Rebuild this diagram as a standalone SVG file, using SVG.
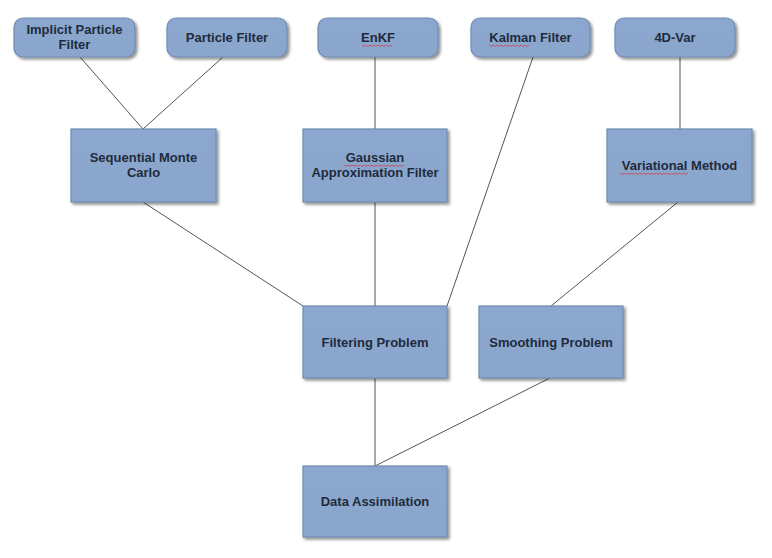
<svg xmlns="http://www.w3.org/2000/svg" width="772" height="558" viewBox="0 0 772 558">
<defs>
<linearGradient id="g" x1="0" y1="0" x2="0" y2="1">
<stop offset="0" stop-color="#8ba7cf"/>
<stop offset="1" stop-color="#8aa6cc"/>
</linearGradient>
<filter id="sh" x="-10%" y="-10%" width="125%" height="130%">
<feGaussianBlur in="SourceAlpha" stdDeviation="1.5"/>
<feOffset dx="1.5" dy="2" result="b"/>
<feComponentTransfer><feFuncA type="linear" slope="0.45"/></feComponentTransfer>
<feMerge><feMergeNode/><feMergeNode in="SourceGraphic"/></feMerge>
</filter>
</defs>
<style>
.n{fill:url(#g);stroke:#6f8bb0;stroke-width:1.2;filter:url(#sh)}
.t{font-family:"Liberation Sans",Arial,sans-serif;font-size:13px;font-weight:bold;fill:#1e2b3c;text-anchor:middle}
.c line{stroke:#555;stroke-width:1}
.sq{fill:none;stroke:#d04050;stroke-width:0.8}
</style>
<rect width="772" height="558" fill="#fff"/>
<g class="c" id="connectors">
<line x1="80" y1="57" x2="143" y2="129"/>
<line x1="223" y1="57" x2="143" y2="129"/>
<line x1="375" y1="57" x2="375" y2="129"/>
<line x1="533" y1="57" x2="447" y2="306"/>
<line x1="680" y1="57" x2="680" y2="129"/>
<line x1="143" y1="202" x2="303" y2="306"/>
<line x1="375" y1="202" x2="375" y2="306"/>
<line x1="678" y1="202" x2="551" y2="306"/>
<line x1="375" y1="378" x2="375" y2="466"/>
<line x1="550" y1="378" x2="375" y2="466"/>
</g>
<g id="implicit-particle-filter"><rect class="n" x="14" y="18" width="121" height="39" rx="9"/><text class="t" x="74.5" y="34">Implicit Particle</text><text class="t" x="74.5" y="49">Filter</text></g>
<g id="particle-filter"><rect class="n" x="167" y="18" width="120" height="39" rx="9"/><text class="t" x="227" y="42">Particle Filter</text></g>
<g id="enkf"><rect class="n" x="318" y="18" width="120" height="39" rx="9"/><text class="t" x="378" y="42">EnKF</text><path class="sq" d="M362 45 l2 1.5 l2 -1.5 l2 1.5 l2 -1.5 l2 1.5 l2 -1.5 l2 1.5 l2 -1.5 l2 1.5 l2 -1.5 l2 1.5 l2 -1.5 l2 1.5 l2 -1.5 l2 1.5"/></g>
<g id="kalman-filter"><rect class="n" x="471" y="18" width="119" height="39" rx="9"/><text class="t" x="530.5" y="42">Kalman Filter</text><path class="sq" d="M489 45 l2 1.5 l2 -1.5 l2 1.5 l2 -1.5 l2 1.5 l2 -1.5 l2 1.5 l2 -1.5 l2 1.5 l2 -1.5 l2 1.5 l2 -1.5 l2 1.5 l2 -1.5 l2 1.5 l2 -1.5 l2 1.5 l2 -1.5 l2 1.5 l2 -1.5"/></g>
<g id="4d-var"><rect class="n" x="615" y="18" width="120" height="39" rx="9"/><text class="t" x="675" y="42">4D-Var</text></g>
<g id="sequential-monte-carlo"><rect class="n" x="71" y="129" width="145" height="73"/><text class="t" x="143.5" y="162">Sequential Monte</text><text class="t" x="143.5" y="177">Carlo</text></g>
<g id="gaussian-approximation-filter"><rect class="n" x="303" y="129" width="144" height="73"/><text class="t" x="375" y="162">Gaussian</text><text class="t" x="375" y="177">Approximation Filter</text><path class="sq" d="M344 165 l2 1.5 l2 -1.5 l2 1.5 l2 -1.5 l2 1.5 l2 -1.5 l2 1.5 l2 -1.5 l2 1.5 l2 -1.5 l2 1.5 l2 -1.5 l2 1.5 l2 -1.5 l2 1.5 l2 -1.5 l2 1.5 l2 -1.5 l2 1.5 l2 -1.5 l2 1.5 l2 -1.5 l2 1.5 l2 -1.5 l2 1.5 l2 -1.5 l2 1.5 l2 -1.5 l2 1.5 l2 -1.5"/></g>
<g id="variational-method"><rect class="n" x="607" y="129" width="145" height="73"/><text class="t" x="679.5" y="170">Variational Method</text><path class="sq" d="M620 173 l2 1.5 l2 -1.5 l2 1.5 l2 -1.5 l2 1.5 l2 -1.5 l2 1.5 l2 -1.5 l2 1.5 l2 -1.5 l2 1.5 l2 -1.5 l2 1.5 l2 -1.5 l2 1.5 l2 -1.5 l2 1.5 l2 -1.5 l2 1.5 l2 -1.5 l2 1.5 l2 -1.5 l2 1.5 l2 -1.5 l2 1.5 l2 -1.5 l2 1.5 l2 -1.5 l2 1.5 l2 -1.5 l2 1.5 l2 -1.5 l2 1.5 l2 -1.5"/></g>
<g id="filtering-problem"><rect class="n" x="303" y="306" width="144" height="72"/><text class="t" x="375" y="347">Filtering Problem</text></g>
<g id="smoothing-problem"><rect class="n" x="479" y="306" width="144" height="72"/><text class="t" x="551" y="347">Smoothing Problem</text></g>
<g id="data-assimilation"><rect class="n" x="303" y="466" width="144" height="71"/><text class="t" x="375" y="506">Data Assimilation</text></g>
</svg>
